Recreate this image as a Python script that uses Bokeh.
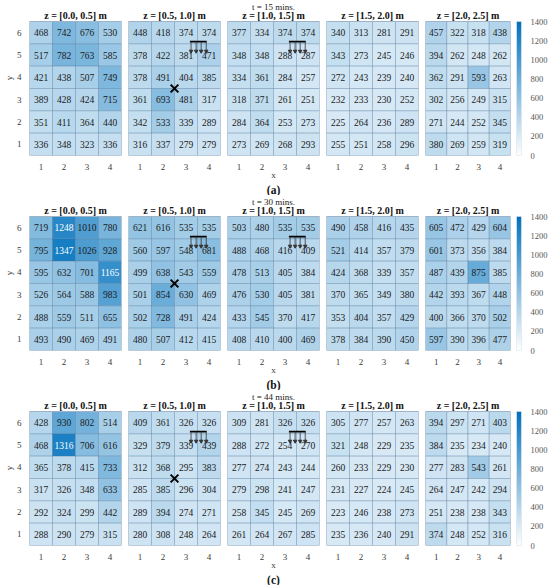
import numpy as np
from bokeh.plotting import figure
from bokeh.models import (ColumnDataSource, Range1d, FixedTicker, LinearColorMapper,
                          Title)
from bokeh.layouts import row, column
from bokeh.embed import file_html
from bokeh.resources import INLINE
from bokeh.core.properties import value
from bokeh.transform import linear_cmap

# ---------------- data ----------------
x_cols = [1, 2, 3, 4]
y_rows = [6, 5, 4, 3, 2, 1]
z_labels = ["z = [0.0, 0.5] m", "z = [0.5, 1.0] m", "z = [1.0, 1.5] m",
            "z = [1.5, 2.0] m", "z = [2.0, 2.5] m"]
time_labels = ["t = 15 mins.", "t = 30 mins.", "t = 44 mins."]
panel_letters = ["(a)", "(b)", "(c)"]
cbar_ticks = [0, 200, 400, 600, 800, 1000, 1200, 1400]
c_low, c_high = 0, 1400

# rows listed from y = 6 (top) down to y = 1, columns x = 1..4
t15_z00 = [[468, 742, 676, 530], [517, 782, 763, 585], [421, 438, 507, 749],
           [389, 428, 424, 715], [351, 411, 364, 440], [336, 348, 323, 336]]
t15_z05 = [[448, 418, 374, 374], [378, 422, 381, 471], [378, 491, 404, 385],
           [361, 693, 481, 317], [342, 533, 339, 289], [316, 337, 279, 279]]
t15_z10 = [[377, 334, 374, 374], [348, 348, 288, 287], [334, 361, 284, 257],
           [318, 371, 261, 251], [284, 364, 253, 273], [273, 269, 268, 293]]
t15_z15 = [[340, 313, 281, 291], [343, 273, 245, 246], [272, 243, 239, 240],
           [232, 233, 230, 252], [225, 264, 236, 289], [255, 251, 258, 296]]
t15_z20 = [[457, 322, 318, 438], [394, 262, 248, 262], [362, 291, 593, 263],
           [302, 256, 249, 315], [271, 244, 252, 345], [380, 269, 259, 319]]

t30_z00 = [[719, 1248, 1010, 780], [795, 1347, 1026, 928], [595, 632, 701, 1165],
           [526, 564, 588, 983], [488, 559, 511, 655], [493, 490, 469, 491]]
t30_z05 = [[621, 616, 535, 535], [560, 597, 548, 681], [499, 638, 543, 559],
           [501, 854, 630, 469], [502, 728, 491, 424], [480, 507, 412, 415]]
t30_z10 = [[503, 480, 535, 535], [488, 468, 416, 409], [478, 513, 405, 384],
           [476, 530, 405, 381], [433, 545, 370, 417], [408, 410, 400, 469]]
t30_z15 = [[490, 458, 416, 435], [521, 414, 357, 379], [424, 368, 339, 357],
           [370, 365, 349, 380], [353, 404, 357, 429], [378, 384, 390, 450]]
t30_z20 = [[605, 472, 429, 604], [601, 373, 356, 384], [487, 439, 875, 385],
           [442, 393, 367, 448], [400, 366, 370, 502], [597, 390, 396, 477]]

t44_z00 = [[428, 930, 802, 514], [468, 1316, 706, 616], [365, 378, 415, 733],
           [317, 326, 348, 633], [292, 324, 299, 442], [288, 290, 279, 315]]
t44_z05 = [[409, 361, 326, 326], [329, 379, 339, 439], [312, 368, 295, 383],
           [285, 385, 296, 304], [289, 394, 274, 271], [280, 308, 248, 264]]
t44_z10 = [[309, 281, 326, 326], [288, 272, 254, 270], [277, 274, 243, 244],
           [279, 298, 241, 247], [258, 345, 245, 269], [261, 264, 267, 285]]
t44_z15 = [[305, 277, 257, 263], [321, 248, 229, 235], [260, 233, 229, 230],
           [231, 227, 224, 245], [223, 246, 238, 273], [235, 236, 240, 291]]
t44_z20 = [[394, 297, 271, 403], [384, 235, 234, 240], [277, 283, 543, 261],
           [264, 247, 242, 294], [251, 238, 238, 343], [374, 248, 252, 316]]

grids = [[t15_z00, t15_z05, t15_z10, t15_z15, t15_z20],
         [t30_z00, t30_z05, t30_z10, t30_z15, t30_z20],
         [t44_z00, t44_z05, t44_z10, t44_z15, t44_z20]]

# sensor (X) location and ceiling inlet symbol
sensor_x = [2.5]
sensor_y = [3.5]
inlet_bar_x = [3.17, 3.9]
inlet_bar_y = 5.6
inlet_arrow_x = [3.22, 3.44, 3.66, 3.88]
inlet_arrow_tip = 5.17

# ---------------- style ----------------
SERIF = "Liberation Serif"
CELL_PX = 134            # height of the 6 cell rows
TOP_PX = 21              # band above the cells holding the titles
B_BORDER = 34
PANEL_W = 92
LAST_W = 85
U = CELL_PX / len(y_rows)  # pixels per data unit (vertical)
X_C = sum(x_cols) / len(x_cols)
Y_C = sum(y_rows) / len(y_rows)
Y_TOP = max(y_rows) + 0.5


def _blend(t):
    lo = (255, 255, 255)
    hi = (0, 114, 189)
    return "#%02x%02x%02x" % tuple(int(round(a + (b - a) * t)) for a, b in zip(lo, hi))


palette = [_blend(i / 255) for i in range(256)]
mapper = LinearColorMapper(palette=palette, low=c_low, high=c_high)


def make_panel(vals, r, k):
    first, last = k == 0, k == 4
    fw = LAST_W if last else PANEL_W
    p = figure(frame_width=fw, frame_height=CELL_PX + TOP_PX,
               x_range=Range1d(0.5, 4.5), y_range=Range1d(0.5, Y_TOP + TOP_PX / U),
               toolbar_location=None, output_backend="svg",
               y_axis_location="left" if first else None,
               min_border=0,
               min_border_left=15 if first else 4,
               min_border_right=3,
               min_border_top=0, min_border_bottom=B_BORDER)
    xs, ys, vs, ts, cs = [], [], [], [], []
    for j, yy in enumerate(y_rows):
        for i, xx in enumerate(x_cols):
            v = vals[j][i]
            xs.append(xx); ys.append(yy); vs.append(v); ts.append(str(v))
            cs.append("white" if v > 1100 else "#1a1a1a")
    src = ColumnDataSource(dict(x=xs, y=ys, v=vs, txt=ts, tc=cs))
    p.rect(x="x", y="y", width=1, height=1, source=src,
           fill_color=linear_cmap("v", palette, c_low, c_high), fill_alpha=0.95,
           line_color="#4a6f96", line_alpha=0.45, line_width=0.7)
    p.text(x="x", y="y", text="txt", source=src, text_align="center",
           text_baseline="middle", text_font=value(SERIF), text_font_size="9.5px",
           text_color="tc")
    # panel border around the cells
    p.rect(x=[X_C], y=[Y_C], width=len(x_cols), height=len(y_rows),
           fill_color=None, line_color="#9fb3c8", line_width=1)
    # panel title
    p.text(x=[X_C], y=[Y_TOP + 6.5 / U], text=[z_labels[k]], text_align="center",
           text_baseline="middle", text_font=value(SERIF), text_font_size="10px",
           text_font_style="bold", text_color="#111111")
    p.grid.visible = False
    p.outline_line_color = None
    p.background_fill_color = "white"

    for ax in p.axis:
        ax.axis_line_color = None
        ax.major_tick_line_color = None
        ax.minor_tick_line_color = None
        ax.major_label_text_font = SERIF
        ax.major_label_text_font_size = "9px"
        ax.major_label_text_color = "#3a3a3a"
        ax.major_label_standoff = 2
        ax.axis_label_text_font = SERIF
        ax.axis_label_text_font_size = "9px"
        ax.axis_label_text_font_style = "normal"
        ax.axis_label_text_color = "#3a3a3a"
        ax.axis_label_standoff = 0
    p.xaxis.ticker = FixedTicker(ticks=x_cols)
    if first:
        p.yaxis.ticker = FixedTicker(ticks=sorted(y_rows))
        p.yaxis.bounds = (0.5, Y_TOP)
        p.yaxis.axis_label = "y"

    if k == 1:
        p.scatter(x=sensor_x, y=sensor_y, marker="x", size=11, line_width=2,
                  color="black")
    if k in (1, 2):
        p.segment(x0=[inlet_bar_x[0]], y0=[inlet_bar_y], x1=[inlet_bar_x[1]],
                  y1=[inlet_bar_y], line_color="black", line_width=1.6)
        p.segment(x0=inlet_arrow_x, y0=[inlet_bar_y] * 4, x1=inlet_arrow_x,
                  y1=[inlet_arrow_tip] * 4, line_color="#333333", line_width=0.8)
        p.scatter(x=inlet_arrow_x, y=[inlet_arrow_tip] * 4,
                  marker="inverted_triangle", size=3.5, color="#333333")
    if k == 2:
        p.xaxis.axis_label = "x"
        p.xaxis.axis_label_standoff = -3
        p.text(x=[X_C], y=[Y_TOP + 15 / U], text=[time_labels[r]],
               text_align="center", text_baseline="middle", text_font=value(SERIF),
               text_font_size="9px", text_color="#222222")
        p.add_layout(Title(text=panel_letters[r], align="center", text_font=SERIF,
                           text_font_size="11.5px", text_font_style="bold",
                           text_color="#111111", standoff=-1), "below")
    return p


def make_colorbar():
    span = c_high - c_low
    top = c_high + span * TOP_PX / CELL_PX
    c = figure(frame_width=5, frame_height=CELL_PX + TOP_PX,
               x_range=Range1d(0, 1), y_range=Range1d(c_low, top),
               toolbar_location=None, output_backend="svg",
               x_axis_location=None, y_axis_location="right",
               min_border=0, min_border_left=3, min_border_top=0,
               min_border_bottom=B_BORDER)
    grad = np.linspace(c_low, c_high, 256).reshape(-1, 1)
    c.image(image=[grad], x=0, y=c_low, dw=1, dh=span, color_mapper=mapper)
    c.rect(x=[0.5], y=[(c_low + c_high) / 2], width=1, height=span,
           fill_color=None, line_color="#c8d4e0", line_width=0.8)
    c.grid.visible = False
    c.outline_line_color = None
    ax = c.yaxis[0]
    ax.ticker = FixedTicker(ticks=cbar_ticks)
    ax.bounds = (c_low, c_high)
    ax.axis_line_color = None
    ax.major_tick_line_color = None
    ax.minor_tick_line_color = None
    ax.major_label_standoff = 3
    ax.major_label_text_font = SERIF
    ax.major_label_text_font_size = "8.5px"
    ax.major_label_text_color = "#555555"
    return c


rows = []
for r in range(3):
    panels = [make_panel(grids[r][k], r, k) for k in range(5)]
    panels.append(make_colorbar())
    rows.append(row(*panels, spacing=0))
layout = column(*rows, spacing=0)

open("out.html", "w").write(file_html(layout, INLINE))
